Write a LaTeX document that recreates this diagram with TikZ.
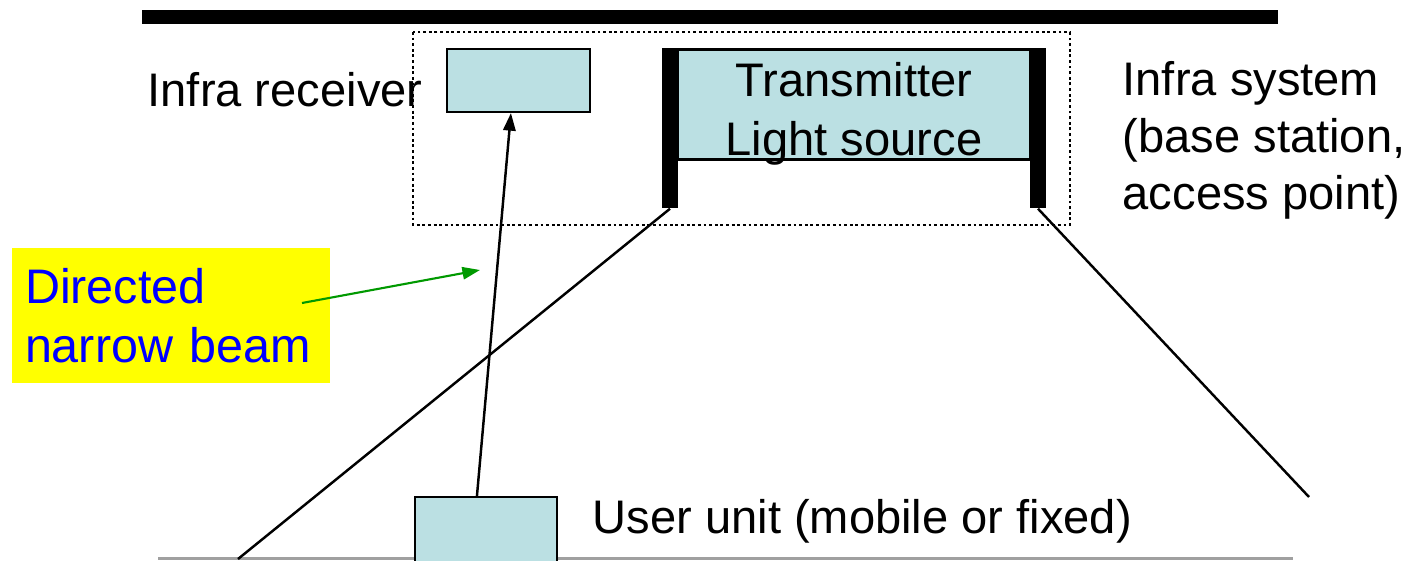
\documentclass[tikz,border=0pt]{standalone}
\usepackage{fontspec}
\setmainfont{Liberation Sans}
\usetikzlibrary{arrows.meta, positioning, calc}
\definecolor{mCyan}{HTML}{BBE0E3}
\definecolor{mYellow}{HTML}{FFFF00}
\definecolor{mBlue}{HTML}{0000FF}
\definecolor{mGreen}{HTML}{009900}
\definecolor{mGray}{HTML}{A0A0A0}

\begin{document}
\begin{tikzpicture}[
    box/.style={draw, fill=mCyan, line width=0.6pt, inner sep=0pt},
    bar/.style={fill=black, inner sep=0pt, minimum width=1.6mm, minimum height=16mm},
    lbl/.style={inner sep=0pt, align=left, font=\fontsize{13.4}{16.2}\selectfont},
    ray/.style={line width=0.7pt}]
  \useasboundingbox (0,0) rectangle (14.12,-5.6);
  \clip (0,0) rectangle (14.12,-5.6);
  % ceiling and floor
  \fill (1.42,-0.10) rectangle (12.78,-0.24);
  \draw[mGray, line width=0.8pt] (1.58,-5.585) -- (12.93,-5.585);
  % infra system
  \draw[line width=0.7pt, dash pattern=on 0.8pt off 0.8pt] (4.13,-0.32) rectangle (10.70,-2.25);
  \node[box, minimum width=14.3mm, minimum height=6.3mm] (recv) at (5.185,-0.805) {};
  \node[box, minimum width=35.2mm, minimum height=11.0mm] (tx) at (8.54,-1.045) {};
  \node[lbl, align=center, anchor=north, font=\fontsize{13.4}{16.8}\selectfont] (txlbl) at (8.54,-0.62) {Transmitter\\Light source};
  \node[bar] (lbar) at (6.70,-1.28) {};
  \node[bar] (rbar) at (10.38,-1.28) {};
  \node[lbl, anchor=base west] (recvlbl) at (1.47,-1.06) {Infra receiver};
  \node[lbl, anchor=north west] (syslbl) at (11.22,-0.61) {Infra system\\(base station,\\access point)};
  % user side
  \node[box, minimum width=14.2mm, minimum height=8mm] (user) at (4.86,-5.37) {};
  \node[lbl, anchor=base west] (userlbl) at (5.92,-5.33) {User unit (mobile or fixed)};
  % beam edges
  \coordinate (bl) at (2.38,-5.59);
  \coordinate (br) at (13.09,-4.97);
  \draw[ray] (lbar.south) -- (bl);
  \draw[ray] (rbar.south) -- (br);
  \draw[ray, -{Triangle[length=5pt, width=3.5pt]}] ($(user.north west)+(0.63,0)$) -- ($(recv.south west)+(0.65,0)$);
  % note
  \node[fill=mYellow, text=mBlue, lbl, font=\fontsize{13.8}{16.6}\selectfont, text width=29.2mm, inner xsep=1.3mm, minimum height=13.5mm] (note) at (1.71,-3.155) {Directed\\narrow beam};
  \coordinate (gs) at (3.02,-3.03);
  \coordinate (ge) at (4.80,-2.70);
  \draw[mGreen, line width=0.6pt, -{Triangle[length=5pt, width=3.5pt]}] (gs) -- (ge);
\end{tikzpicture}
\end{document}
